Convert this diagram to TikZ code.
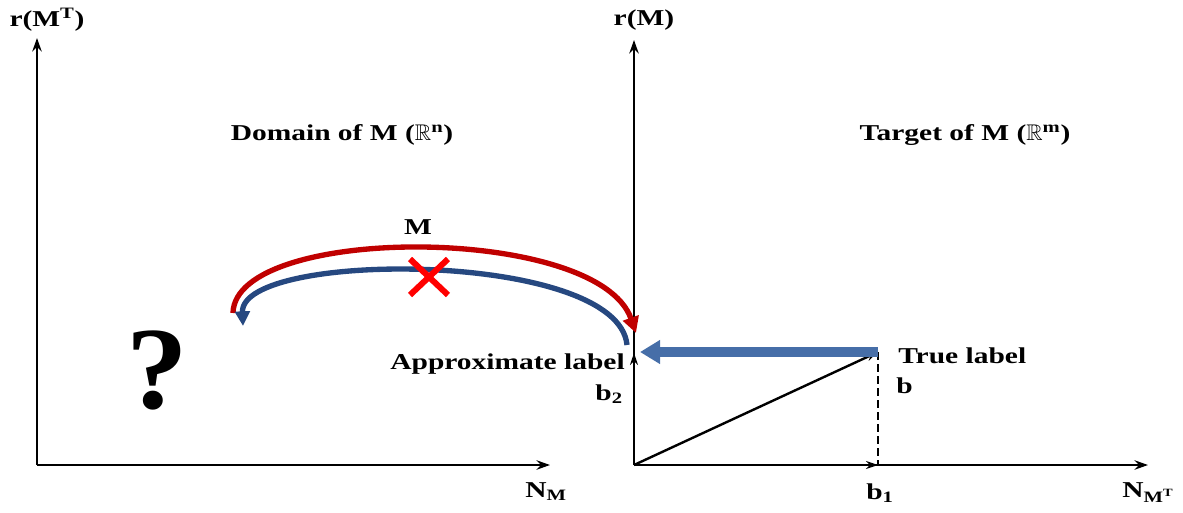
\documentclass[tikz,border=0pt]{standalone}
\usepackage{amssymb}
\usepackage{fontspec}
\setmainfont{Liberation Serif}
\newfontfamily\lblfont[FakeStretch=1.3]{Liberation Serif}
\newfontfamily\qfont[FakeStretch=1.05]{Liberation Serif}
\usetikzlibrary{arrows.meta,calc}
\definecolor{arcred}{RGB}{192,0,0}
\definecolor{arcblue}{RGB}{38,72,128}
\definecolor{thickblue}{RGB}{70,110,168}
\begin{document}
\begin{tikzpicture}[x=0.75pt,y=-0.75pt,
  lbl/.style={font=\lblfont\bfseries\fontsize{17}{19}\selectfont, inner sep=0pt, text=black},
  axis/.style={line width=2.1pt, -{Stealth[length=10pt,width=7pt]}},
  vec/.style={line width=1.8pt, -{Stealth[length=9pt,width=6pt]}},
  arc/.style={line width=4pt}]
\useasboundingbox (0,0) rectangle (1183,512);
% coordinates
\coordinate (OL) at (37,465);
\coordinate (YL) at (37,38);
\coordinate (XL) at (550,465);
\coordinate (O) at (634,465);
\coordinate (YR) at (634,40);
\coordinate (XR) at (1148,465);
\coordinate (B) at (878,352);
\coordinate (B1) at (878,465);
\coordinate (B2) at (634,353);
\coordinate (A) at (640,352);
% axes
\draw[axis] (OL) -- (YL);
\draw[axis] (OL) -- (XL);
\draw[axis] (O) -- (YR);
\draw[axis] (O) -- (XR);
% vectors
\draw[vec] (O) -- (B2);
\draw[vec] (O) -- (B1);
\draw[vec] (O) -- (B);
\draw[line width=1.9pt, dash pattern=on 6pt off 3pt] (B) -- (B1);
% thick arrow
\draw[line width=7pt, color=thickblue, -{Triangle[length=15pt,width=17pt]}] (B) -- (A);
% arcs
\coordinate (RS) at (233,313);
\coordinate (RE) at (636,333);
\coordinate (BS) at (627,345);
\coordinate (BE) at (243,326);
\draw[arc, color=arcred, -{Triangle[length=12pt,width=12pt]}] (RS) .. controls (235,224) and (598,224) .. (RE);
\draw[arc, color=arcblue, -{Triangle[length=11pt,width=11pt]}] (BS) .. controls (618,250) and (240,250) .. (BE);
% red cross
\coordinate (X) at (429,277);
\draw[line width=4.5pt, color=red] ($(X)+(-19,-18)$) -- ($(X)+(19,18)$);
\draw[line width=4.5pt, color=red] ($(X)+(19,-18)$) -- ($(X)+(-19,18)$);
% labels
\node[lbl] (rmt) at (47,20) {r(M\textsuperscript{T})};
\node[lbl] (rm) at (644,20) {r(M)};
\node[lbl] (dom) at (342,135) {Domain of M ($\mathbb{R}$\textsuperscript{n})};
\node[lbl] (tgt) at (965,135) {Target of M ($\mathbb{R}$\textsuperscript{m})};
\node[lbl] (mlab) at (418,227) {M};
\node[lbl, anchor=base east] (approx) at (625,369) {Approximate label};
\node[lbl, anchor=base east] (b2) at (623,400) {b\textsubscript{2}};
\node[lbl, anchor=base west] (truel) at (898,363) {True label};
\node[lbl, anchor=base west] (blab) at (896,393) {b};
\node[lbl, anchor=base] (b1) at (880,499) {b\textsubscript{1}};
\node[lbl, anchor=base west] (nm) at (525,497) {N\textsubscript{M}};
\node[lbl, anchor=base west] (nmt) at (1122,497) {N\textsubscript{M\textsuperscript{T}}};
\node[font=\qfont\bfseries\fontsize{88}{90}\selectfont, inner sep=0pt] (q) at (157,370) {?};
\end{tikzpicture}
\end{document}
